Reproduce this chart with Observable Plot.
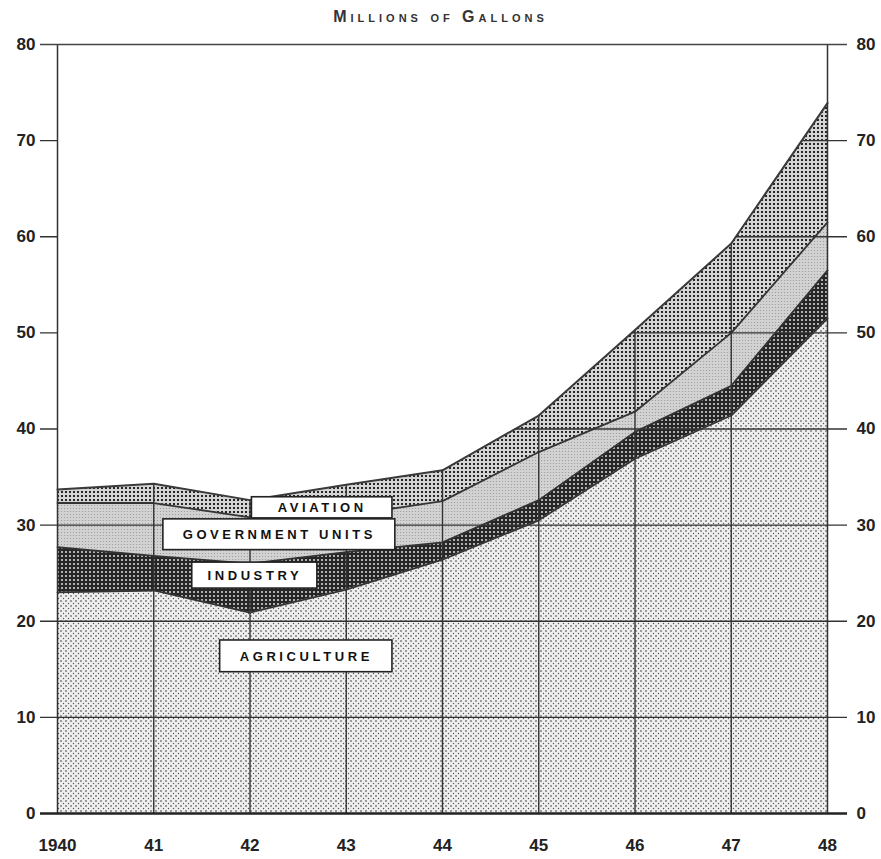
<!DOCTYPE html>
<html>
<head>
<meta charset="utf-8">
<script src="https://cdn.jsdelivr.net/npm/d3@7"></script>
<script src="https://cdn.jsdelivr.net/npm/@observablehq/plot@0.6"></script>
<style>
  html, body { margin: 0; padding: 0; background: #fff; }
  #title { height: 30px; line-height: 34px; text-align: center; font-family: "Liberation Sans", sans-serif;
           font-weight: bold; font-size: 16px; font-variant: small-caps; letter-spacing: 4px; color: #333; }
  .lbl text { letter-spacing: 3.6px; }
  #chart svg { display: block; }
</style>
</head>
<body>
<svg width="0" height="0" style="position:absolute">
  <defs>
    <pattern id="pAg" width="5" height="5" patternUnits="userSpaceOnUse">
      <rect width="5" height="5" fill="#eeeeee"/>
      <circle cx="1" cy="1" r="0.8" fill="#333"/>
      <circle cx="3.5" cy="3.5" r="0.7" fill="#555"/>
    </pattern>
    <pattern id="pInd" width="4" height="4" patternUnits="userSpaceOnUse">
      <rect width="4" height="4" fill="#262626"/>
      <rect x="1" y="1" width="2" height="2" fill="#b0b0b0"/>
    </pattern>
    <pattern id="pGov" width="3" height="3" patternUnits="userSpaceOnUse">
      <rect width="3" height="3" fill="#d2d2d2"/>
      <circle cx="1.5" cy="1.5" r="0.6" fill="#959595"/>
    </pattern>
    <pattern id="pAv" width="4" height="4" patternUnits="userSpaceOnUse">
      <rect width="4" height="4" fill="#d4d4d4"/>
      <rect x="1" y="1" width="2" height="2" fill="#262626"/>
    </pattern>
  </defs>
</svg>
<div id="title">Millions of Gallons</div>
<div id="chart"></div>
<script>
// ---- data (millions of gallons) ----
const years = [1940, 1941, 1942, 1943, 1944, 1945, 1946, 1947, 1948];
const agriculture = [23.0, 23.2, 20.9, 23.3, 26.4, 30.5, 36.9, 41.4, 51.5];
const industry    = [4.7, 3.6, 5.1, 3.9, 1.8, 2.1, 2.8, 3.1, 5.0];
const government  = [4.6, 5.5, 4.8, 3.8, 4.3, 5.0, 2.1, 5.5, 5.0];
const aviation    = [1.4, 2.0, 1.8, 3.2, 3.2, 3.8, 8.5, 9.3, 12.4];
const seriesNames = ["Agriculture", "Industry", "Government Units", "Aviation"];
const yTicks = [0, 10, 20, 30, 40, 50, 60, 70, 80];
const xTickLabels = ["1940", "41", "42", "43", "44", "45", "46", "47", "48"];
const labelTexts = ["AVIATION", "GOVERNMENT UNITS", "INDUSTRY", "AGRICULTURE"];

// ---- annotation layout (data units) ----
const labelLayout = [
  {x1: 1942.02, x2: 1943.48, y1: 30.7, y2: 32.9},
  {x1: 1941.10, x2: 1943.51, y1: 27.4, y2: 30.6},
  {x1: 1941.40, x2: 1942.70, y1: 23.4, y2: 26.1},
  {x1: 1941.69, x2: 1943.48, y1: 14.7, y2: 18.0}
];

const seriesValues = [agriculture, industry, government, aviation];
const rows = [];
seriesNames.forEach((s, i) => years.forEach((yr, j) => rows.push({year: yr, series: s, value: seriesValues[i][j]})));
const totals = years.map((yr, j) => ({year: yr, total: seriesValues.reduce((a, arr) => a + arr[j], 0)}));
const boxes = labelTexts.map((t, i) => ({text: t, ...labelLayout[i], cx: (labelLayout[i].x1 + labelLayout[i].x2) / 2, cy: (labelLayout[i].y1 + labelLayout[i].y2) / 2}));
const innerYears = years.slice(1, -1);
const edgeYears = [years[0], years[years.length - 1]];
const innerTicks = yTicks.slice(1, -1);

const fontFam = "Liberation Sans, Arial, sans-serif";

const chart = Plot.plot({
  width: 881,
  height: 829,
  marginLeft: 57,
  marginRight: 54,
  marginTop: 14,
  marginBottom: 46,
  style: {fontFamily: fontFam, background: "#fff", color: "#222"},
  x: {domain: [1940, 1948], axis: null},
  y: {domain: [0, 80], axis: null},
  color: {domain: seriesNames, range: ["url(#pAg)", "url(#pInd)", "url(#pGov)", "url(#pAv)"]},
  marks: [
    Plot.areaY(rows, Plot.stackY({x: "year", y: "value", z: "series", fill: "series"})),
    Plot.ruleX(innerYears, {x: d => d, y1: 0, y2: 80, stroke: "#333", strokeWidth: 1.4}),
    Plot.ruleY(innerTicks, {y: d => d, stroke: "#333", strokeWidth: 1.4, insetLeft: -17, insetRight: -20}),
    Plot.lineY(rows.filter(d => d.series !== "Aviation"), Plot.stackY2({x: "year", y: "value", z: "series", stroke: "#333", strokeWidth: 1.8})),
    Plot.areaY(totals, {x: "year", y1: "total", y2: 80, fill: "#fff"}),
    Plot.lineY(totals, {x: "year", y: "total", stroke: "#3a3a3a", strokeWidth: 2}),
    Plot.ruleX(edgeYears, {x: d => d, y1: 0, y2: 80, stroke: "#333", strokeWidth: 1.5}),
    Plot.ruleY([80], {y: d => d, stroke: "#444", strokeWidth: 1.3, insetLeft: -17, insetRight: -20}),
    Plot.ruleY([0], {y: d => d, stroke: "#222", strokeWidth: 2.5, insetLeft: -17, insetRight: -20}),
    Plot.rect(boxes, {x1: "x1", x2: "x2", y1: "y1", y2: "y2", fill: "#fff", stroke: "#222", strokeWidth: 1.6}),
    Plot.text(boxes, {x: "cx", y: "cy", text: "text", fontSize: 13, fontWeight: "bold", fill: "#111", className: "lbl"}),
    Plot.text(yTicks, {x: 1940, y: d => d, text: d => String(d), dx: -22, textAnchor: "end", fontSize: 17, fontWeight: "bold", fill: "#222"}),
    Plot.text(yTicks, {x: 1948, y: d => d, text: d => String(d), dx: 29, textAnchor: "start", fontSize: 17, fontWeight: "bold", fill: "#222"}),
    Plot.text(years, {x: d => d, y: 0, text: (d, i) => xTickLabels[i], dy: 32, fontSize: 17, fontWeight: "bold", fill: "#222"})
  ]
});
document.getElementById("chart").appendChild(chart);
</script>
</body>
</html>
